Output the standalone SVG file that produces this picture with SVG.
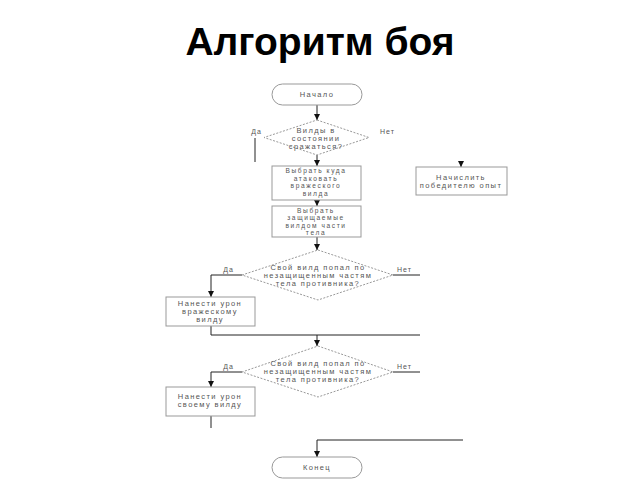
<svg xmlns="http://www.w3.org/2000/svg" width="640" height="480" viewBox="0 0 640 480">
<defs>
<marker id="ah" viewBox="0 0 6 6" refX="6" refY="3" markerWidth="6" markerHeight="6" markerUnits="userSpaceOnUse" orient="auto">
<path d="M0,0 L6,3 L0,6 Z" fill="#111"/>
</marker>
<style>
.t{font-family:"Liberation Sans",Arial,sans-serif;font-size:7.5px;fill:#555;text-anchor:middle;letter-spacing:1.4px}
.s{font-size:6.6px;letter-spacing:1.6px}
.l{font-family:"Liberation Sans",Arial,sans-serif;font-size:7px;fill:#555;letter-spacing:1px}
.box{fill:#fff;stroke:#999;stroke-width:1}
.dia{fill:#fff;stroke:#999;stroke-width:1;stroke-dasharray:2,1.5}
.c{fill:none;stroke:#222;stroke-width:1}
.ca{fill:none;stroke:#222;stroke-width:1;marker-end:url(#ah)}
</style>
</defs>
<rect width="640" height="480" fill="#fff"/>
<text x="320" y="55" font-family="'Liberation Sans',Arial,sans-serif" font-size="39" font-weight="bold" text-anchor="middle" fill="#000">Алгоритм боя</text>

<g id="connectors">
<path class="ca" d="M317,104 V120"/>
<path class="c" d="M255,138 V162"/>
<path class="ca" d="M317,155 V166"/>
<path class="ca" d="M461,161 V167"/>
<path class="ca" d="M317,200 V206"/>
<path class="ca" d="M317,237 V250"/>
<path class="ca" d="M242,275 H211 V297"/>
<path class="c" d="M393,275 H420"/>
<path class="c" d="M211,326 V335 H420"/>
<path class="ca" d="M317,335 V346"/>
<path class="ca" d="M242,372 H211 V387"/>
<path class="c" d="M393,372 H420"/>
<path class="c" d="M211,416 V428"/>
<path class="ca" d="M463,440 H317 V457"/>
</g>

<g id="start">
<rect class="box" x="272" y="84" width="90" height="21" rx="10.5"/>
<text class="t" x="317" y="97">Начало</text>
</g>

<g id="d1">
<polygon class="dia" points="317,120 369,137.5 317,155 264,137.5"/>
<text class="t" x="316" y="132.5">Вилды в</text>
<text class="t" x="316" y="140.5">состоянии</text>
<text class="t" x="316" y="148.5">сражаться?</text>
<text class="l" x="262" y="134" text-anchor="end">Да</text>
<text class="l" x="380" y="134">Нет</text>
</g>

<g id="b1">
<rect class="box" x="272" y="166" width="89" height="34"/>
<text class="t s" x="316" y="173">Выбрать куда</text>
<text class="t s" x="316" y="180.6">атаковать</text>
<text class="t s" x="316" y="188.2">вражеского</text>
<text class="t s" x="316" y="195.8">вилда</text>
</g>

<g id="win">
<rect class="box" x="416" y="167" width="91" height="28"/>
<text class="t" x="461" y="180">Начислить</text>
<text class="t" x="461" y="188">победителю опыт</text>
</g>

<g id="b2">
<rect class="box" x="272" y="206" width="89" height="31"/>
<text class="t s" x="316" y="212.5">Выбрать</text>
<text class="t s" x="316" y="220.1">защищаемые</text>
<text class="t s" x="316" y="227.7">вилдом части</text>
<text class="t s" x="316" y="235.3">тела</text>
</g>

<g id="d2">
<polygon class="dia" points="318,250 393,275 318,300 242,275"/>
<text class="t" x="318" y="269.5">Свой вилд попал по</text>
<text class="t" x="318" y="277.5">незащищенным частям</text>
<text class="t" x="318" y="285.5">тела противника?</text>
<text class="l" x="234" y="272" text-anchor="end">Да</text>
<text class="l" x="397" y="272">Нет</text>
</g>

<g id="b3">
<rect class="box" x="166" y="297" width="89" height="29"/>
<text class="t" x="210" y="305.5">Нанести урон</text>
<text class="t" x="210" y="313.5">вражескому</text>
<text class="t" x="210" y="321.5">вилду</text>
</g>

<g id="d3">
<polygon class="dia" points="318,346 393,372 318,397 242,372"/>
<text class="t" x="318" y="365.5">Свой вилд попал по</text>
<text class="t" x="318" y="373.5">незащищенным частям</text>
<text class="t" x="318" y="381.5">тела противника?</text>
<text class="l" x="234" y="369" text-anchor="end">Да</text>
<text class="l" x="397" y="369">Нет</text>
</g>

<g id="b4">
<rect class="box" x="166" y="387" width="89" height="29"/>
<text class="t" x="210" y="399">Нанести урон</text>
<text class="t" x="210" y="407">своему вилду</text>
</g>

<g id="end">
<rect class="box" x="272" y="457" width="90" height="21" rx="10.5"/>
<text class="t" x="317" y="470">Конец</text>
</g>
</svg>
